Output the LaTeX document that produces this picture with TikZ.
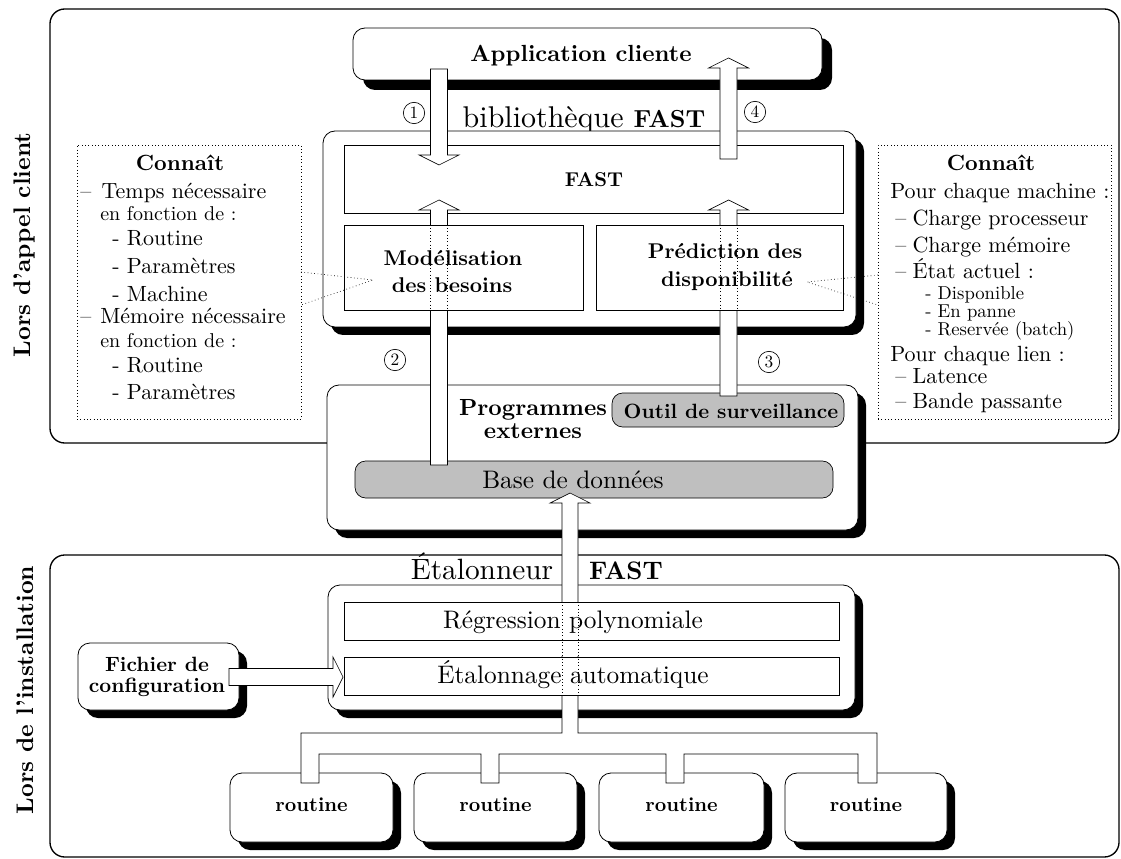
\documentclass[tikz,border=0pt]{standalone}
\usepackage{fontspec}
\setmainfont{lmroman10-regular.otf}[BoldFont=lmroman10-bold.otf, ItalicFont=lmroman10-italic.otf, Ligatures=TeX]
\usetikzlibrary{shadows,fit,calc}
\newcommand{\myfs}[1]{\fontsize{#1}{#1}\selectfont}
\begin{document}
\begin{tikzpicture}[x=0.75pt,y=-0.75pt,
  framebox/.style={draw, line width=1pt, rounded corners=11pt, inner sep=0pt},
  shbox/.style={draw, fill=white, line width=0.6pt, rounded corners=9pt, inner sep=0pt},
  sh/.style={drop shadow={shadow xshift=#1, shadow yshift=-#1, fill=black, opacity=1}},
  sh/.default=6pt,
  inbox/.style={draw, fill=white, line width=0.5pt, inner sep=0pt},
  graybox/.style={draw, fill=black!25, line width=0.5pt, rounded corners=8pt, inner sep=0pt},
  note/.style={draw, dotted, line width=0.5pt, inner sep=0pt},
  txt/.style={inner sep=0pt, anchor=base},
  ltxt/.style={inner sep=0pt, anchor=base west, font=\myfs{16.5}},
  stxt/.style={inner sep=0pt, anchor=base west, font=\myfs{14}},
  num/.style={circle, draw, line width=0.5pt, inner sep=0pt, minimum size=16pt, font=\myfs{13}},
  conn/.style={dotted, line width=0.5pt},
  blockarrow/.style={draw, fill=white, line width=0.5pt, to path={
    ($(\tikztostart)!6.4pt!90:(\tikztotarget)$)
    -- ($(\tikztotarget)!7.5pt!(\tikztostart)!6.4pt!90:(\tikztotarget)$)
    -- ($(\tikztotarget)!7.5pt!(\tikztostart)!15pt!90:(\tikztotarget)$)
    -- (\tikztotarget)
    -- ($(\tikztotarget)!7.5pt!(\tikztostart)!15pt!-90:(\tikztotarget)$)
    -- ($(\tikztotarget)!7.5pt!(\tikztostart)!6.4pt!-90:(\tikztotarget)$)
    -- ($(\tikztostart)!6.4pt!-90:(\tikztotarget)$) -- cycle}},
]
\useasboundingbox (0,0) rectangle (1121,859);

% frames
\node[framebox, fit={(50,9)(1119,443)}] (topf) {};
\node[framebox, fit={(50,555)(1119,857)}] (botf) {};
\node[rotate=90, font=\bfseries\myfs{18}] (lac) at (25,245) {Lors d'appel client};
\node[rotate=90, font=\bfseries\myfs{18}] (lin) at (25,690) {Lors de l'installation};

% left note
\node[note, fit={(77,145)(301,419)}] (nl) {};
\node[txt, font=\bfseries\myfs{16.5}] (nl0) at (180,171) {Connaît};
\node[ltxt] (nl1) at (80,199) {\makebox[16pt][l]{–}Temps nécessaire};
\node[stxt, font=\myfs{15}] (nl2) at (100,221) {en fonction de :};
\node[ltxt] (nl3) at (112,246) {- Routine};
\node[ltxt] (nl4) at (112,274) {- Paramètres};
\node[ltxt] (nl5) at (112,301) {- Machine};
\node[ltxt] (nl6) at (80,324) {\makebox[15pt][l]{–}Mémoire nécessaire};
\node[stxt, font=\myfs{15}] (nl7) at (100,348) {en fonction de :};
\node[ltxt] (nl8) at (112,373) {- Routine};
\node[ltxt] (nl9) at (112,399) {- Paramètres};

% right note
\node[note, fit={(878,145)(1111,419)}] (nr) {};
\node[txt, font=\bfseries\myfs{16.5}] (nr0) at (991,171) {Connaît};
\node[ltxt] (nr1) at (890,199) {Pour chaque machine :};
\node[ltxt] (nr2) at (895,226) {\makebox[13pt][l]{–}Charge processeur};
\node[ltxt] (nr3) at (895,253) {\makebox[13pt][l]{–}Charge mémoire};
\node[ltxt] (nr4) at (895,279) {\makebox[13pt][l]{–}État actuel :};
\node[stxt] (nr5) at (925,300) {- Disponible};
\node[stxt] (nr6) at (925,318) {- En panne};
\node[stxt] (nr7) at (925,335) {- Reservée (batch)};
\node[ltxt] (nr8) at (890,361) {Pour chaque lien :};
\node[ltxt] (nr9) at (895,383) {\makebox[13pt][l]{–}Latence};
\node[ltxt] (nr10) at (895,408) {\makebox[13pt][l]{–}Bande passante};

% application
\node[shbox, sh=7.5pt, fit={(353,28)(822,80)}] (app) {};
\node[txt, font=\bfseries\myfs{17.5}] (appt) at (581,62) {Application cliente};

% bibliotheque
\node[txt, font=\myfs{22.5}] (bibt) at (584,128) {bibliothèque {\bfseries\myfs{18.5}FAST}};
\node[shbox, sh, fit={(323,131)(856,327)}] (bib) {};
\node[inbox, fit={(344,145)(843,213)}] (fast) {};
\node[txt, font=\bfseries\myfs{15}] (fastt) at (594,187) {FAST};

% programmes externes
\node[shbox, sh, fit={(327,385)(858,530)}] (prog) {};
\node[inner sep=0pt, align=center, font=\bfseries\fontsize{17.5}{17}\selectfont] (progt) at (533,419) {Programmes\\externes};
\node[graybox, fit={(612,393)(844,427)}] (outil) {};
\node[txt, font=\bfseries\myfs{15.5}] (outilt) at (731,418) {Outil de surveillance};
\node[graybox, fit={(355,461)(833,498)}] (base) {};
\node[txt, font=\myfs{19}] (baset) at (573,488) {Base de données};

% etalonneur
\node[txt, font=\myfs{22}] (etalt1) at (482,579) {Étalonneur};
\node[txt, font=\bfseries\myfs{19}] (etalt2) at (626,579) {FAST};
\node[shbox, sh, fit={(328,585)(855,710)}] (etal) {};
\node[shbox, sh, fit={(78,643)(239,710)}] (fich) {};
\node[inner sep=0pt, align=center, font=\bfseries\fontsize{15.5}{15.5}\selectfont] (ficht) at (157,677) {Fichier de\\configuration};

% routines
\node[shbox, sh, fit={(230,773)(393,842)}] (r1) {};
\node[shbox, sh, fit={(414,773)(577,842)}] (r2) {};
\node[shbox, sh, fit={(599,773)(764,842)}] (r3) {};
\node[shbox, sh, fit={(785,773)(947,842)}] (r4) {};
\foreach \n in {r1,r2,r3,r4}
  \node[txt, font=\bfseries\myfs{15}] (\n t) at ($(\n.center)+(0,4)$) {routine};

% block arrows
\coordinate (a1s) at (439,69);   \coordinate (a1t) at (439,165);
\coordinate (a4s) at (728.5,159); \coordinate (a4t) at (728.5,58);
\coordinate (a2s) at (439,465);  \coordinate (a2t) at (439,200);
\coordinate (a3s) at (728.5,396); \coordinate (a3t) at (728.5,200);
\coordinate (a5s) at (229,677);  \coordinate (a5t) at (343,677);
\draw[blockarrow] (a1s) to (a1t);
\draw[blockarrow] (a4s) to (a4t);
\draw[blockarrow] (a2s) to (a2t);
\draw[blockarrow] (a3s) to (a3t);
\draw[blockarrow] (a5s) to (a5t);

% bus from routines to database
\draw[fill=white, line width=0.5pt] (301,783) -- (301,733) -- (562,733) -- (562,503)
  -- (550,503) -- (570,493) -- (590,503) -- (578,503) -- (578,733) -- (877,733)
  -- (877,783) -- (858,783) -- (858,754) -- (684,754) -- (684,783) -- (666,783)
  -- (666,754) -- (499,754) -- (499,783) -- (481,783) -- (481,754) -- (319,754)
  -- (319,783) -- cycle;

% inner boxes over arrows
\node[inbox, fit={(344,225)(583,310)}] (mod) {};
\node[inbox, fit={(596,225)(843,310)}] (pred) {};
\draw[conn] ($(a2s |- mod.north)+(-8.5,0)$) -- ($(a2s |- mod.south)+(-8.5,0)$);
\draw[conn] ($(a2s |- mod.north)+(8.5,0)$) -- ($(a2s |- mod.south)+(8.5,0)$);
\draw[conn] ($(a3s |- pred.north)+(-8.5,0)$) -- ($(a3s |- pred.south)+(-8.5,0)$);
\draw[conn] ($(a3s |- pred.north)+(8.5,0)$) -- ($(a3s |- pred.south)+(8.5,0)$);
\node[txt, font=\bfseries\myfs{16}] (mod1) at (453,266) {Modélisation};
\node[txt, font=\bfseries\myfs{16}] (mod2) at (452,293) {des besoins};
\node[txt, font=\bfseries\myfs{16}] (pred1) at (725,259) {Prédiction des};
\node[txt, font=\bfseries\myfs{16}] (pred2) at (727,287) {disponibilité};

\node[inbox, fit={(344,602)(839,640)}] (regr) {};
\node[inbox, fit={(344,657)(839,695)}] (etaa) {};
\fill[white] (561,641) rectangle (579,656);
\draw[conn] (562,602) -- (562,695);
\draw[conn] (578,602) -- (578,695);
\node[txt, font=\myfs{19}] (regrt) at (573,628) {Régression polynomiale};
\node[txt, font=\myfs{19}] (etaat) at (573,683) {Étalonnage automatique};

% dotted connectors from notes
\coordinate (la) at (301,272); \coordinate (lb) at (301,305); \coordinate (lc) at (373,280);
\coordinate (ra) at (878,275); \coordinate (rb) at (878,305); \coordinate (rc) at (807,282);
\draw[conn] (la) -- (lc) -- (lb);
\draw[conn] (ra) -- (rc) -- (rb);

% step numbers
\node[num] (n1) at (414,113) {1};
\node[num] (n4) at (755,112) {4};
\node[num] (n2) at (395,360) {2};
\node[num] (n3) at (769,362) {3};
\end{tikzpicture}
\end{document}
